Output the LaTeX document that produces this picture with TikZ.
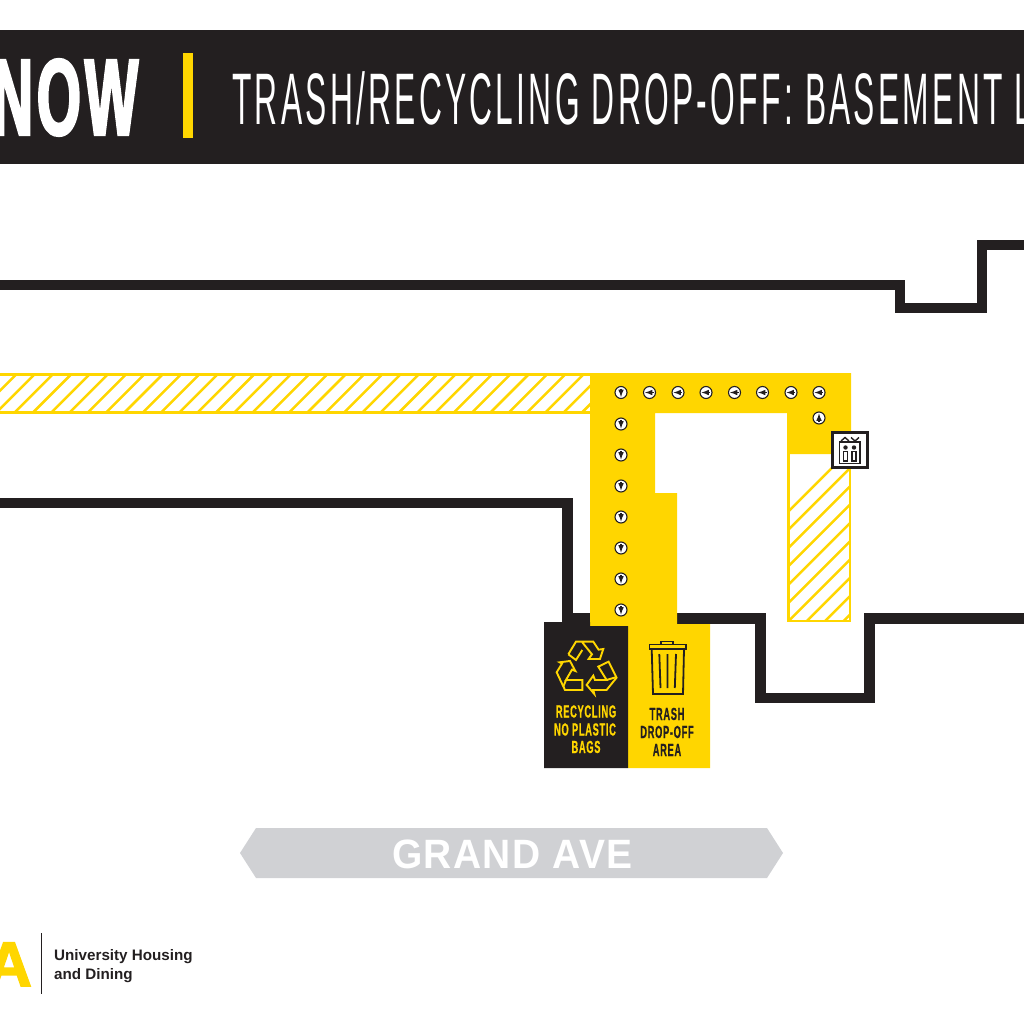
\documentclass[tikz,border=0pt]{standalone}
\usepackage{fontspec}
\usetikzlibrary{arrows}
\setmainfont{Liberation Sans}
\newfontfamily\titlefont[FakeStretch=0.435,LetterSpace=4.5]{Liberation Sans}
\newfontfamily\nowfont[FakeStretch=0.52,LetterSpace=3.5,BoldFeatures={FakeBold=2}]{Liberation Sans}
\newfontfamily\tagfont[FakeStretch=0.53,LetterSpace=4,BoldFeatures={FakeBold=0.6}]{Liberation Sans}
\newfontfamily\avefont[FakeStretch=0.95,LetterSpace=3.3]{Liberation Sans}
\newfontfamily\logofont[BoldFeatures={FakeBold=2.5}]{Liberation Sans}
\definecolor{ink}{HTML}{231F20}
\definecolor{gold}{HTML}{FFD600}
\definecolor{street}{HTML}{D0D1D4}

\begin{document}
\begin{tikzpicture}[x=1pt, y=-1pt, >=latex]
  \tikzstyle{wall} = [draw=ink, line width=10.5pt, miter limit=10]
  \tikzstyle{stripe} = [draw=gold, line width=2.5pt]
  \tikzstyle{dotmark} = [circle, draw=ink, fill=white, line width=1.1pt, minimum size=12pt, inner sep=0pt]
  \tikzstyle{dotarrow} = [ink, line width=1.5pt, ->]
  \tikzstyle{tag} = [inner sep=0pt, align=center, font=\tagfont\bfseries\fontsize{17.5}{18}\selectfont]
  \useasboundingbox (0,0) rectangle (1024,1024);
  \clip (0,0) rectangle (1024,1024);

  % banner
  \fill [ink] (0,30) rectangle (1024,164);
  \fill [gold] (183,53) rectangle (193,138);
  \node [anchor=base east, inner sep=0pt, text=white, font=\nowfont\bfseries\fontsize{109}{109}\selectfont] (now) at (138.5,135) {NOW};
  \node [anchor=base west, inner sep=0pt, text=white, font=\titlefont\fontsize{73}{73}\selectfont] (title) at (232,125) {TRASH/RECYCLING DROP-OFF: BASEMENT L};

  % outer walls
  \draw [wall] (0,285) -- (900,285) -- (900,308) -- (982,308) -- (982,245) -- (1024,245);
  \draw [wall] (0,503) -- (567.5,503) -- (567.5,618.5) -- (592,618.5);
  \draw [wall] (675,618.5) -- (760.5,618.5) -- (760.5,698) -- (869.5,698) -- (869.5,618.5) -- (1024,618.5);

  % hatched route
  \begin{scope}
    \clip (-5,374.5) rectangle (591,412.5);
    \foreach \n in {20,...,56} {
      \draw [stripe] (6.3+18.3*\n-400,400) ++(-60,60) -- ++(120,-120);
    }
  \end{scope}
  \draw [stripe] (-5,374.5) rectangle (591,412.5);
  \begin{scope}
    \clip (788.5,454) rectangle (850,621);
    \foreach \n in {0,...,14} {
      \draw [stripe] (1299.8+18.3*\n-500,500) ++(-150,150) -- ++(300,-300);
    }
  \end{scope}
  \draw [stripe] (788.5,454) -- (788.5,621) -- (850,621) -- (850,454);

  % yellow route
  \fill [gold] (590,373) -- (851,373) -- (851,454) -- (787,454) -- (787,413) -- (655,413) -- (655,493) -- (677,493) -- (677,624)
    -- (710,624) -- (710,768) -- (628,768) -- (628,626) -- (590,626) -- cycle;
  \fill [ink] (544,622) -- (590,622) -- (590,626) -- (628,626) -- (628,768) -- (544,768) -- cycle;

  % walking direction marks
  \foreach \x in {649.5,678,706,734.5,762.5,791,819} {
    \node [dotmark] (left\x) at (\x,392.5) {};
    \draw [dotarrow] (\x+4,392.5) -- (\x-4.5,392.5);
  }
  \foreach \y in {392.5,424,455,486,517,548,579,610} {
    \node [dotmark] (down\y) at (621,\y) {};
    \draw [dotarrow] (621,\y-4) -- (621,\y+4.5);
  }
  \node [dotmark] (up) at (819,418) {};
  \draw [dotarrow] (819,422) -- (819,413.5);

  % elevator
  \node [draw=ink, fill=white, line width=3pt, minimum size=35pt, inner sep=0pt] (lift) at (849.7,449.7) {};
  \draw [ink, line width=1.8pt] (839.5,442) rectangle (860,463.5);
  \draw [ink, line width=1.4pt] (841,441) -- (845,437.5) -- (849,441) (851,437.5) -- (855,441) -- (859,437.5);
  \foreach \x in {845.5,854} {
    \fill [ink] (\x,447.5) circle (2.2pt);
    \draw [ink, line width=1.5pt] (\x-2.2,451.5) rectangle (\x+2.2,461);
  }

  % recycling symbol
  \begin{scope}[shift={(550,635)}, x=0.333pt, y=-0.333pt, gold, line width=1.9pt]
    \draw (55,58) -- (78,20) -- (130,20) -- (146,44) -- (160,42) -- (150,72) -- (116,72) -- (126,58) -- (97,22);
    \draw (55,58) -- (78,75) -- (97,45);
    \draw (20,112) -- (36,86) -- (29,82) -- (60,78) -- (76,108) -- (66,104) -- (48,135) -- (97,135) -- (97,165) -- (45,165) -- cycle;
    \draw (48,135) -- (40,155);
    \draw (145,95) -- (176,80) -- (200,128) -- (170,165) -- (130,165) -- (133,177) -- (110,150) -- (130,122) -- (135,135) -- (170,135) -- cycle;
    \draw (170,135) -- (197,127);
  \end{scope}

  % trash can
  \begin{scope}[ink, line width=1.8pt]
    \draw (661,644) -- (661,641.5) -- (673,641.5) -- (673,644);
    \draw (649.5,644.5) rectangle (686,649);
    \draw (651.7,649) -- (653,694) -- (683,694) -- (684,649);
    \draw (659.3,654) -- (660.5,688) (667.5,654) -- (667.5,688) (676,654) -- (674.8,688);
  \end{scope}

  \node [tag, text=gold, anchor=base] (recy1) at (586,717.5) {RECYCLING};
  \node [tag, text=gold, anchor=base] (recy2) at (585,735.5) {NO PLASTIC};
  \node [tag, text=gold, anchor=base] (recy3) at (586,753) {BAGS};
  \node [tag, text=ink, anchor=base] (trash1) at (667,720) {TRASH};
  \node [tag, text=ink, anchor=base] (trash2) at (667,738) {DROP-OFF};
  \node [tag, text=ink, anchor=base] (trash3) at (667,756) {AREA};

  % street
  \fill [street] (240,853) -- (256,828) -- (767,828) -- (783,853) -- (767,878) -- (256,878) -- cycle;
  \node [anchor=base, inner sep=0pt, text=white, font=\avefont\bfseries\fontsize{41}{41}\selectfont] (ave) at (512.5,868) {GRAND AVE};

  % logo
  \node [anchor=base east, inner sep=0pt, text=gold, font=\logofont\bfseries\fontsize{63}{63}\selectfont] (logo) at (32,986) {A};
  \fill [ink] (40.8,933) rectangle (42.4,994);
  \node [anchor=base west, inner sep=0pt, text=ink, font=\bfseries\fontsize{15.2}{15}\selectfont] (uni) at (54,960) {University Housing};
  \node [anchor=base west, inner sep=0pt, text=ink, font=\bfseries\fontsize{15.2}{15}\selectfont] (din) at (54,979.5) {and Dining};
\end{tikzpicture}
\end{document}
